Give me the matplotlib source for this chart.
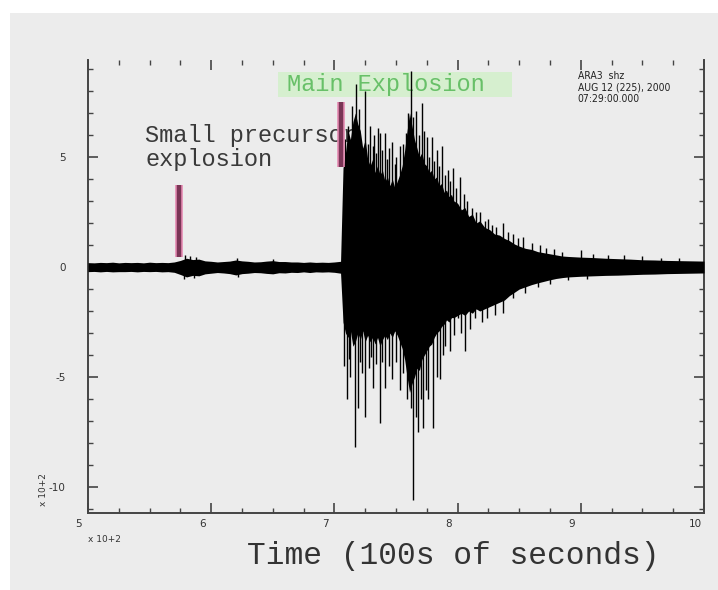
import matplotlib
matplotlib.use("Agg")
import matplotlib.pyplot as plt
import matplotlib.transforms as mtransforms
from matplotlib.patches import Rectangle
from matplotlib.ticker import MultipleLocator

# envelope of the dense trace (time in 100s of seconds, amplitude x 10+2)
env_t = [5.00, 5.05, 5.10, 5.15, 5.20, 5.25, 5.30, 5.35, 5.40, 5.45, 5.50, 5.55,
         5.60, 5.65, 5.70, 5.75, 5.80, 5.85, 5.90, 5.95, 6.00, 6.05, 6.10, 6.15,
         6.20, 6.25, 6.30, 6.35, 6.40, 6.45, 6.50, 6.55, 6.60, 6.65, 6.70, 6.75,
         6.80, 6.85, 6.90, 6.95, 7.00, 7.05,
         7.07, 7.09, 7.11, 7.13, 7.15, 7.17, 7.19, 7.21, 7.23, 7.25, 7.27, 7.29,
         7.31, 7.33, 7.35, 7.37, 7.39, 7.41, 7.43, 7.45, 7.47, 7.49, 7.51, 7.53,
         7.55, 7.57, 7.59, 7.61, 7.63, 7.65, 7.67, 7.69, 7.71, 7.73, 7.75, 7.77,
         7.79, 7.81, 7.83, 7.85, 7.87, 7.89, 7.91, 7.93, 7.95, 7.97, 8.00, 8.03,
         8.06, 8.09, 8.12, 8.15, 8.18, 8.22, 8.26, 8.30, 8.34, 8.38, 8.42, 8.46,
         8.50, 8.55, 8.60, 8.65, 8.70, 8.75, 8.80, 8.85, 8.90, 9.00, 9.10, 9.20,
         9.30, 9.40, 9.50, 9.60, 9.70, 9.80, 9.90, 10.00]
env_hi = [0.20, 0.19, 0.21, 0.20, 0.22, 0.19, 0.21, 0.20, 0.21, 0.19, 0.22, 0.20,
          0.21, 0.20, 0.23, 0.30, 0.40, 0.34, 0.36, 0.28, 0.26, 0.23, 0.25, 0.27,
          0.32, 0.28, 0.26, 0.23, 0.24, 0.27, 0.29, 0.25, 0.25, 0.23, 0.23, 0.21,
          0.23, 0.21, 0.22, 0.21, 0.23, 0.26,
          4.5, 5.2, 6.2, 5.8, 6.6, 7.0, 6.5, 6.2, 5.4, 5.8, 4.9, 4.6,
          4.9, 4.3, 4.6, 4.2, 4.4, 3.9, 4.1, 3.7, 4.0, 3.6, 3.9, 4.2,
          4.6, 5.3, 6.2, 7.0, 6.4, 5.8, 5.4, 5.0, 5.2, 4.7, 4.6, 4.3,
          4.4, 4.0, 4.1, 3.7, 3.8, 3.4, 3.5, 3.2, 3.3, 3.0, 2.9, 2.6,
          2.7, 2.3, 2.4, 2.0, 2.1, 1.8, 1.7, 1.5, 1.45, 1.3, 1.2, 1.05,
          0.95, 0.85, 0.80, 0.70, 0.65, 0.60, 0.55, 0.50, 0.48, 0.45, 0.43, 0.40,
          0.38, 0.36, 0.33, 0.32, 0.30, 0.29, 0.28, 0.27]
env_lo = [-0.21, -0.20, -0.22, -0.20, -0.22, -0.21, -0.21, -0.20, -0.22, -0.20, -0.21, -0.20,
          -0.22, -0.21, -0.24, -0.34, -0.45, -0.38, -0.40, -0.31, -0.28, -0.25, -0.27, -0.30,
          -0.36, -0.30, -0.28, -0.25, -0.26, -0.29, -0.31, -0.26, -0.27, -0.24, -0.25, -0.22,
          -0.25, -0.22, -0.23, -0.22, -0.24, -0.28,
          -2.5, -3.0, -3.2, -2.9, -3.6, -3.4, -3.0, -3.3, -2.9, -3.4, -3.1, -3.4,
          -3.2, -3.5, -3.2, -3.6, -3.3, -3.1, -3.3, -3.0, -3.2, -2.9, -3.1, -3.4,
          -3.7, -4.2, -5.0, -5.7, -5.3, -5.0, -4.6, -4.7, -4.2, -4.0, -3.8, -3.6,
          -3.5, -3.2, -3.0, -2.9, -2.7, -2.6, -2.4, -2.5, -2.3, -2.3, -2.2, -2.1,
          -2.2, -2.0, -2.1, -1.9, -2.0, -1.9, -1.8, -1.7, -1.6, -1.5, -1.3, -1.15,
          -1.0, -0.9, -0.8, -0.72, -0.65, -0.58, -0.52, -0.48, -0.45, -0.42, -0.40, -0.38,
          -0.37, -0.35, -0.33, -0.32, -0.30, -0.29, -0.28, -0.27]

# individual peaks sticking out of the envelope
spike_t = [7.09, 7.11, 7.14, 7.175, 7.20, 7.25, 7.27, 7.29, 7.31, 7.32, 7.34, 7.35,
           7.37, 7.39, 7.41, 7.43, 7.44, 7.47, 7.49, 7.50, 7.53, 7.56, 7.58, 7.60,
           7.62, 7.64, 7.66, 7.69, 7.71, 7.73, 7.75, 7.77, 7.79, 7.81, 7.83, 7.85,
           7.87, 7.90, 7.92, 7.94, 7.96, 7.99, 8.02, 8.05, 8.08, 8.12, 8.15, 8.18,
           8.22, 8.25, 8.28, 8.31, 8.37, 8.41, 8.45, 8.49, 8.53, 8.60, 8.67, 8.72,
           8.78, 8.85, 9.00, 9.10, 9.22, 9.35, 9.50, 9.65, 9.80,
           5.79, 5.83, 5.88, 6.21, 6.50,
           7.08, 7.10, 7.12, 7.13, 7.17, 7.19, 7.21, 7.22, 7.25, 7.28, 7.30, 7.31,
           7.34, 7.37, 7.39, 7.41, 7.44, 7.47, 7.50, 7.53, 7.56, 7.59, 7.62, 7.64,
           7.66, 7.68, 7.70, 7.72, 7.74, 7.76, 7.80, 7.83, 7.86, 7.88, 7.90, 7.94,
           7.97, 8.00, 8.03, 8.06, 8.10, 8.14, 8.20, 8.24, 8.30, 8.37, 8.45, 8.55,
           8.65, 8.75, 8.90, 9.05,
           5.78, 5.86, 6.22]
spike_y = [5.8, 6.4, 7.3, 8.3, 7.2, 8.0, 5.6, 6.4, 5.5, 6.0, 5.2, 6.3,
           6.1, 5.3, 6.1, 4.9, 5.4, 5.7, 4.7, 5.0, 5.5, 5.6, 6.1, 7.0,
           8.9, 6.8, 7.1, 6.0, 7.45, 6.2, 5.9, 5.0, 5.9, 4.8, 5.3, 4.6,
           5.5, 4.2, 4.4, 3.9, 4.5, 3.6, 4.1, 3.3, 3.0, 2.7, 2.5, 2.5,
           2.1, 2.2, 1.9, 1.8, 2.0, 1.6, 1.5, 1.3, 1.36, 1.1, 1.0, 0.85,
           0.8, 0.7, 0.77, 0.6, 0.55, 0.55, 0.5, 0.42, 0.4,
           0.55, 0.5, 0.45, 0.4, 0.36,
           -4.5, -6.0, -4.2, -5.0, -8.2, -6.4, -4.3, -4.8, -6.8, -4.6, -4.1, -5.5,
           -4.4, -7.1, -4.3, -5.5, -4.5, -5.1, -4.3, -5.6, -4.8, -6.0, -6.4, -10.6,
           -6.8, -7.5, -6.0, -7.3, -5.6, -6.0, -7.3, -5.0, -5.1, -4.0, -3.6, -3.8,
           -3.1, -2.3, -3.0, -3.8, -2.8, -2.3, -2.5, -2.3, -2.2, -2.1, -1.4, -1.2,
           -0.9, -0.75, -0.6, -0.55,
           -0.55, -0.5, -0.45]

# pink event markers
mark_t = [5.735, 7.053]
mark_lo = [0.45, 4.55]
mark_hi = [3.73, 7.5]

fig = plt.figure(figsize=(7.18, 5.90), dpi=100, facecolor="white")
fig.patches.append(Rectangle((10 / 718, 0), 1, 1 - 13 / 590, transform=fig.transFigure,
                             facecolor="#ececec", edgecolor="none", zorder=-10))
ax = fig.add_axes([88 / 718, 1 - 513 / 590, 616 / 718, 453 / 590])
ax.set_facecolor("none")

ax.fill_between(env_t, env_lo, env_hi, color="black", lw=0, zorder=3)
ax.vlines(spike_t, 0, spike_y, color="black", lw=1.0, zorder=3)

ax.vlines(mark_t, mark_lo, mark_hi, color="#e58ab2", lw=5.5, zorder=4)
ax.vlines(mark_t, mark_lo, mark_hi, color="#7a3556", lw=3.2, zorder=5)

ax.text(5.463, 6.5, "Small precursor\nexplosion", family="Liberation Mono", fontsize=17,
        color="#3a3a3a", va="top", ha="left", zorder=2, linespacing=1.05)
ax.add_patch(Rectangle((0.308, 0.918), 0.38, 0.055, transform=ax.transAxes,
                       facecolor="#d6efcf", edgecolor="none", zorder=1))
ax.text(0.323, 0.946, "Main Explosion", transform=ax.transAxes, family="Liberation Mono",
        fontsize=17, color="#68c068", va="center", ha="left", zorder=2)
ax.text(0.795, 0.975, "ARA3  shz\nAUG 12 (225), 2000\n07:29:00.000", transform=ax.transAxes,
        fontsize=7.5, fontstretch="condensed", color="#222222", va="top", ha="left",
        linespacing=1.15)

ax.set_xlim(5, 10)
ax.set_ylim(-11.18, 9.41)
ax.xaxis.set_minor_locator(MultipleLocator(0.25))
ax.yaxis.set_minor_locator(MultipleLocator(1))
ax.set_xticks([5, 6, 7, 8, 9, 10])
ax.set_xticklabels(["5", "6", "7", "8", "9", "10"])
ax.set_yticks([-10, -5, 0, 5])
ax.set_yticklabels(["-10", "-5", "0", "5"])

ax.spines["top"].set_visible(False)
for s in ["left", "right", "bottom"]:
    ax.spines[s].set_color("#444444")
    ax.spines[s].set_linewidth(1.4)
ax.tick_params(which="both", direction="in", top=True, right=True, color="#444444",
               labelsize=7.5, labelcolor="#333333")
ax.tick_params(which="major", length=7, width=1.2)
ax.tick_params(which="minor", length=3.5, width=1.0)
ax.tick_params(axis="y", which="major", pad=16)
ax.tick_params(axis="x", which="major", pad=4)

# labels sit a bit left of their ticks in the original
shift = mtransforms.ScaledTranslation(-0.09, 0, fig.dpi_scale_trans)
for lab in ax.get_xticklabels():
    lab.set_transform(lab.get_transform() + shift)

fig.text(88 / 718, 1 - 540 / 590, "x 10+2", fontsize=6.5, color="#333333", va="center", ha="left")
fig.text(43 / 718, 1 - 490 / 590, "x 10+2", fontsize=6.5, color="#333333", va="center",
         ha="center", rotation=90)
fig.text(247 / 718, 1 - 556 / 590, "Time (100s of seconds)", family="Liberation Mono",
         fontsize=22.5, color="#333333", va="center", ha="left")

fig.savefig("out.png", dpi=100)
